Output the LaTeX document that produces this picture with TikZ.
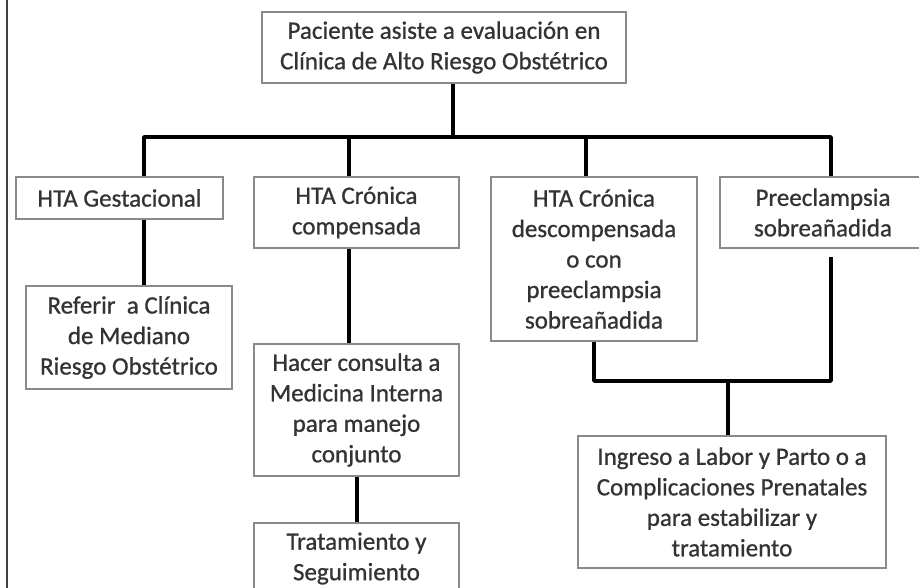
\documentclass[tikz,border=0pt]{standalone}
\usepackage{fontspec}
\setmainfont{Carlito}
\newfontfamily\boxfont{Carlito}[FakeBold=0.8]
\definecolor{txt}{HTML}{333333}
\definecolor{boxline}{HTML}{8A8A8A}
\tikzset{
  box/.style={draw=boxline, line width=1.4pt, rectangle, inner sep=0pt, align=center,
    text=txt, font=\boxfont\fontsize{25}{30.5}\selectfont, anchor=center},
  conn/.style={draw=black, line width=3.4pt, line join=round, line cap=butt}
}
\begin{document}
\begin{tikzpicture}[x=1pt,y=-1pt]
\useasboundingbox (0,0) rectangle (919,588);
\clip (0,0) rectangle (919,588);
\fill[white] (0,0) rectangle (919,588);
\draw[draw=black!75, line width=2pt] (6.5,0) -- (6.5,588);

\node[box, minimum width=364pt, minimum height=71pt] (top) at (444,47.5) {Paciente asiste a evaluación en\\Clínica de Alto Riesgo Obstétrico};
\node[box, minimum width=207pt, minimum height=42pt] (g) at (119.5,198) {HTA Gestacional};
\node[box, minimum width=205pt, minimum height=71pt] (c) at (356.5,212.5) {HTA Crónica\\compensada};
\node[box, minimum width=206pt, minimum height=164pt] (d) at (594,259) {HTA Crónica\\descompensada\\o con\\preeclampsia\\sobreañadida};
\node[box, minimum width=206pt, minimum height=71pt] (p) at (823,212.5) {Preeclampsia\\sobreañadida};
\node[box, minimum width=206pt, minimum height=103pt] (r) at (129,337.5) {Referir\ \ a Clínica\\de Mediano\\Riesgo Obstétrico};
\node[box, minimum width=205pt, minimum height=132pt] (h) at (356.5,410) {Hacer consulta a\\Medicina Interna\\para manejo\\conjunto};
\node[box, minimum width=205pt, minimum height=71pt] (t) at (356.5,558.5) {Tratamiento y\\Seguimiento};
\node[box, minimum width=308pt, minimum height=132pt] (i) at (732,502) {Ingreso a Labor y Parto o a\\Complicaciones Prenatales\\para estabilizar y\\tratamiento};

\coordinate (b0) at (453,137);
\coordinate (bL) at (144,137);
\coordinate (bR) at (831,137);
\coordinate (bC) at (349,137);
\coordinate (bD) at (586,137);
\coordinate (jL) at (594,381);
\coordinate (jR) at (831,381);
\coordinate (jM) at (728,381);
\coordinate (hx) at (357,0);

\draw[conn] (top.south -| b0) -- (b0);
\draw[conn] (g.north -| bL) -- (bL) -- (bR) -- (p.north -| bR);
\draw[conn] (bC) -- (c.north -| bC);
\draw[conn] (bD) -- (d.north -| bD);
\draw[conn] (g.south -| bL) -- (r.north -| bL);
\draw[conn] (c.south -| bC) -- (h.north -| bC);
\draw[conn] (h.south -| hx) -- (t.north -| hx);
\draw[conn] (d.south -| jL) -- (jL) -- (jR) -- ([yshift=-8pt]p.south -| jR);
\draw[conn] (jM) -- (i.north -| jM);
\end{tikzpicture}
\end{document}
